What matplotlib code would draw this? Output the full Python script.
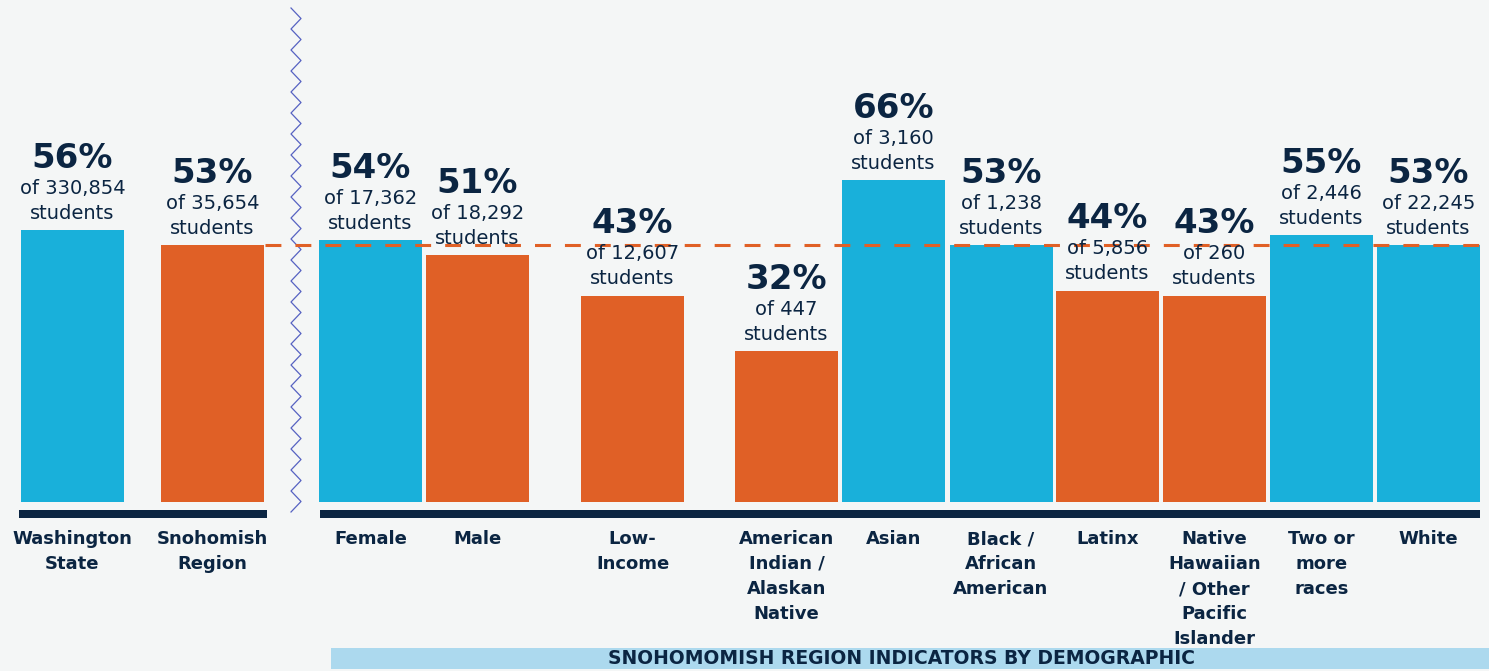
import numpy as np
import matplotlib
matplotlib.use("Agg")
import matplotlib.pyplot as plt

# data
labels = ["Washington\nState", "Snohomish\nRegion", "Female", "Male", "Low-\nIncome",
          "American\nIndian /\nAlaskan\nNative", "Asian", "Black /\nAfrican\nAmerican",
          "Latinx", "Native\nHawaiian\n/ Other\nPacific\nIslander", "Two or\nmore\nraces", "White"]
pcts = [56, 53, 54, 51, 43, 32, 66, 53, 44, 43, 55, 53]
counts = ["330,854", "35,654", "17,362", "18,292", "12,607", "447", "3,160",
          "1,238", "5,856", "260", "2,446", "22,245"]
at_or_above = [True, False, True, False, False, False, True, True, False, False, True, True]
region_pct = 53
band_title = "SNOHOMOMISH REGION INDICATORS BY DEMOGRAPHIC"

BLUE = "#19b0da"
ORANGE = "#e06026"
NAVY = "#0b2542"
BG = "#f4f6f6"
BAND = "#acd9ee"
ZIG = "#5662c2"

W, H = 1489, 671
fig = plt.figure(figsize=(W / 100, H / 100), dpi=100, facecolor=BG)
ax = fig.add_axes([0, 0, 1, 1])
ax.set_facecolor(BG)

# y axis in percent; 5.03 px per point, zero at pixel row 512
PX_PER_PCT = 5.03
ZERO_PX = 512


def pct_at(ypx):
    return (ZERO_PX - ypx) / PX_PER_PCT


ax.set_xlim(0, W)
ax.set_ylim(pct_at(H), pct_at(0))
ax.axis("off")

# bar layout (pixel centres)
xs = [72.5, 212.5, 370.5, 477.5, 632.5, 786.5, 893.5, 1001, 1107.5, 1214.5, 1321.5, 1428.5]
bar_w = 103
base = pct_at(502)

colors = [BLUE if a else ORANGE for a in at_or_above]
ax.bar(xs, [p - base for p in pcts], bottom=base, width=bar_w, color=colors, zorder=2)

# region benchmark
ax.plot([265, 1480], [region_pct, region_pct], color=ORANGE, lw=2.2,
        dashes=(5.2, 4.6), zorder=3)

# baselines
ax.fill_between([19, 267], pct_at(518), pct_at(510), color=NAVY, lw=0, zorder=2)
ax.fill_between([320, 1480], pct_at(518), pct_at(510), color=NAVY, lw=0, zorder=2)

# zigzag separator
zy = np.arange(8, 514, 10.5)
zx = np.where(np.arange(len(zy)) % 2 == 0, 291, 301)
ax.plot(zx, [pct_at(v) for v in zy], color=ZIG, lw=0.9, zorder=2)

# value labels
for x, p, n in zip(xs, pcts, counts):
    ax.annotate(f"{p}%", (x, p), xytext=(0, 72), textcoords="offset pixels",
                ha="center", va="center", fontsize=24.5, fontweight="bold",
                color=NAVY, zorder=4)
    ax.annotate(f"of {n}", (x, p), xytext=(0, 42), textcoords="offset pixels",
                ha="center", va="center", fontsize=14, color=NAVY, zorder=4)
    ax.annotate("students", (x, p), xytext=(0, 17), textcoords="offset pixels",
                ha="center", va="center", fontsize=14, color=NAVY, zorder=4)

# category labels
for x, lab in zip(xs, labels):
    for i, line in enumerate(lab.split("\n")):
        ax.text(x, pct_at(539 + 25 * i), line, ha="center", va="center",
                fontsize=13, fontweight="bold", color=NAVY)

# bottom band
ax.fill_between([331, W], pct_at(669), pct_at(648), color=BAND, lw=0)
ax.text(902, pct_at(659), band_title, ha="center", va="center",
        fontsize=13.5, fontweight="bold", color=NAVY)

fig.savefig("out.png", dpi=100, facecolor=BG)
